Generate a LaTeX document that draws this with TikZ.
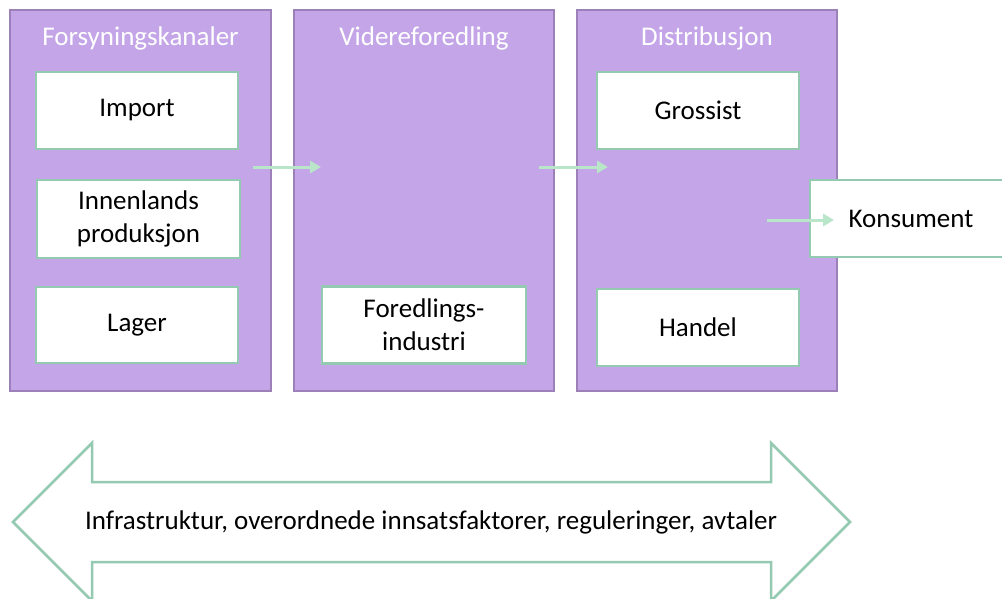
\documentclass[tikz,border=0pt]{standalone}
\usepackage{fontspec}
\setmainfont{Carlito}
\usetikzlibrary{arrows.meta}
\definecolor{purpfill}{HTML}{C4A6E8}
\definecolor{purpline}{HTML}{9C80B8}
\definecolor{greenline}{HTML}{94C9B2}
\definecolor{arrowgreen}{HTML}{B9E5C9}
\tikzset{
  panel/.style={draw=purpline, fill=purpfill, line width=2pt, rectangle, inner sep=0pt},
  paneltitle/.style={text=white, font=\fontsize{27}{32}\selectfont, inner sep=0pt},
  inbox/.style={draw=greenline, fill=white, line width=2.5pt, rectangle, align=center,
    font=\fontsize{27}{33}\selectfont, inner sep=0pt, minimum width=202pt, minimum height=77pt},
  flow/.style={draw=arrowgreen, line width=3pt, -{Triangle[length=11pt,width=12pt]}},
  bigarrow/.style={draw=greenline, fill=white, line width=2.5pt, line join=miter},
}
\begin{document}
\begin{tikzpicture}[x=1pt,y=-1pt]
\clip (0,0) rectangle (1002,598);
\fill[white] (0,0) rectangle (1002,598);
% panels
\node[panel, minimum width=261pt, minimum height=381pt] (p1) at (140.5,200.5) {};
\node[panel, minimum width=260pt, minimum height=381pt] (p2) at (424,200.5) {};
\node[panel, minimum width=260pt, minimum height=381pt] (p3) at (707,200.5) {};
\node[paneltitle] (t1) at (140.5,38) {Forsyningskanaler};
\node[paneltitle] (t2) at (424,38) {Videreforedling};
\node[paneltitle] (t3) at (707,38) {Distribusjon};
% inner boxes
\node[inbox] (import) at (137,110.5) {Import};
\node[inbox, minimum width=203pt, minimum height=78pt] (innen) at (138.5,219) {Innenlands\\produksjon};
\node[inbox, minimum height=76pt] (lager) at (137,325) {Lager};
\node[inbox, minimum width=204pt] (fored) at (424,325) {Foredlings-\\industri};
\node[inbox] (gross) at (698,110.5) {Grossist};
\node[inbox] (handel) at (698,327.5) {Handel};
\node[inbox] (kons) at (911,218.5) {Konsument};
% flow arrows
\coordinate (a1s) at (253,167);
\coordinate (a1e) at (321,167);
\coordinate (a2s) at (539,167);
\coordinate (a2e) at (608,167);
\coordinate (a3s) at (767,220);
\coordinate (a3e) at (834,220);
\draw[flow] (a1s) -- (a1e);
\draw[flow] (a2s) -- (a2e);
\draw[flow] (a3s) -- (a3e);
% big double arrow
\draw[bigarrow] (13,522) -- (92,443) -- (92,482) -- (771,482) -- (771,443) -- (850,522)
  -- (771,601) -- (771,562) -- (92,562) -- (92,601) -- cycle;
\node[font=\fontsize{27}{32}\selectfont, inner sep=0pt] (infra) at (431,522)
  {Infrastruktur, overordnede innsatsfaktorer, reguleringer, avtaler};
\end{tikzpicture}
\end{document}
